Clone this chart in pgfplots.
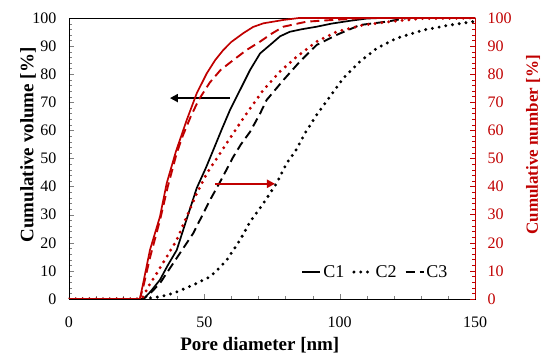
\documentclass[border=0pt]{standalone}
\usepackage{fontspec}
\setmainfont{Liberation Serif}
\usepackage{pgfplots}
\pgfplotsset{compat=1.18}
\usetikzlibrary{calc,arrows.meta}
\definecolor{dred}{RGB}{192,0,0}
\begin{document}
\begin{tikzpicture}
\pgfplotsset{
 common/.style={scale only axis, width=406pt, height=281pt,
  xmin=0, xmax=150, ymin=0, ymax=100,
  tick align=inside, /pgf/number format/assume math mode=true,
  tick label style={font=\fontsize{16}{18}\selectfont},
  major tick length=5pt, minor tick length=3pt,
  ytick={0,10,...,100}, minor y tick num=4,
 },
 sol/.style={line width=1.7pt},
 dot/.style={line width=3.3pt, line cap=round, dash pattern=on 0pt off 6.8pt},
 dsh/.style={line width=1.9pt, dash pattern=on 9pt off 5pt},
}
\begin{axis}[common, name=ax,
  xtick={0,50,100,150}, minor x tick num=4,
  xtick pos=bottom, ytick pos=left,
  xticklabel style={yshift=-14pt},
  yticklabel style={xshift=-9pt},
  xlabel={Pore diameter [nm]}, ylabel={Cumulative volume [\%]},
  every axis x label/.style={at={(axis description cs:0.47,0)}, anchor=center, yshift=-46pt,
    font=\fontsize{19}{22}\selectfont\bfseries},
  every axis y label/.style={at={(axis description cs:0,0.548)}, anchor=center, xshift=-41pt, rotate=90,
    font=\fontsize{19}{22}\selectfont\bfseries},
  legend columns=3,
  legend style={at={(0.945,0.096)}, anchor=east, draw=none, fill=none,
    font=\fontsize{18}{20}\selectfont,
    /tikz/every even column/.append style={column sep=6pt}},
  legend image code/.code={\draw[#1] (0pt,0pt) -- (18pt,0pt);},
]
\addplot[black, sol] coordinates {(0,0)(27.5,0)(30,2.5)(33.6,6.8)(36.5,12)(39.8,17.4)(43.5,28.5)(47.2,39.5)(50.5,46.5)(53.3,53)(56.5,60.5)(59.5,67.3)(63,74)(66.9,81.5)(70.6,87.4)(75,91)(78,93.5)(81.6,95.1)(86,96)(91.5,96.9)(97,98)(103.8,99)(110,99.8)(115,100)(150,100)};
\addlegendentry{C1}
\addplot[black, dot] coordinates {(0,0)(27.5,0)(33.6,0.8)(38.5,2)(45.9,5)(52.1,7.9)(55,10.5)(58.3,13.9)(63.2,21)(66.9,27.5)(71.8,34)(76.7,41.2)(80.4,48.3)(83.5,52.4)(87.2,59)(91.5,65.5)(96.4,72)(101.3,78.5)(107.5,84.5)(113.7,89.2)(121,92.8)(130.9,95.7)(140.7,97.5)(150,98.8)};
\addlegendentry{C2}
\addplot[black, dsh] coordinates {(0,0)(27.5,0)(30.5,2.5)(33.6,5.6)(38.5,12.7)(45.9,23.4)(52.1,35.2)(56,42)(60.7,50.6)(63.5,55)(66.9,59.5)(70.6,66)(73,70.8)(79.2,77.9)(85.3,84.5)(91.5,90.4)(98.9,94)(107.5,97.5)(117.4,98.7)(125,100)(150,100)};
\addlegendentry{C3}
\draw[black, line width=2.2pt, -{Triangle[length=8pt,width=8pt]}] (axis cs:59.5,71.5) -- (axis cs:37.3,71.5);
\end{axis}
\begin{axis}[common,
  axis x line=none, axis y line*=right,
  ylabel={Cumulative number [\%]},
  every axis y label/.style={at={(axis description cs:1,0.548)}, anchor=center, xshift=58pt, rotate=90,
    font=\fontsize{17}{20}\selectfont\bfseries, text=dred},
  y axis line style={draw=dred, line width=0.8pt},
  every tick/.style={dred},
  yticklabel style={text=dred, xshift=9pt},
]
\addplot[dred, sol] coordinates {(0,0)(26.2,0)(27.4,5.6)(29.9,17.4)(33.6,29.3)(36.1,41.2)(39.5,52.5)(43.5,63.7)(47.2,73.2)(50.9,80.3)(54,85)(57,88.6)(60,91.5)(64.4,94.6)(68,96.8)(71.8,98.1)(79.2,99.3)(85,100)(150,100)};
\addplot[dred, dot] coordinates {(0,0)(26.5,0)(27.4,0.8)(29.3,4.4)(32.4,9.1)(36.1,15)(39.8,21)(43.5,29.3)(47.2,37.6)(50.9,44.7)(55,50.6)(60.7,59)(65.6,66)(71.8,74.4)(77.9,80.9)(84.1,86.2)(91.5,91.6)(98.9,95.1)(108.7,97.5)(118.6,98.7)(130,99.8)(150,100)};
\addplot[dred, dsh] coordinates {(0,0)(26.2,0)(27.6,5)(30,15)(33.6,28)(36.5,40)(39.8,51.9)(42,58)(45,65)(48,71)(52,77)(56,81.5)(60,84.5)(65.6,88.6)(70.6,91.6)(75,94.5)(79.2,96.9)(87.8,98.7)(97.5,99.3)(110,100)(150,100)};
\draw[dred, line width=2.2pt, -{Triangle[length=8pt,width=8pt]}] (axis cs:53.9,41) -- (axis cs:76.1,41);
\end{axis}
\pgfresetboundingbox
\path[use as bounding box] ($(ax.south west)+(-69pt,-59pt)$) rectangle ($(ax.north east)+(72pt,18pt)$);
\end{tikzpicture}
\end{document}
